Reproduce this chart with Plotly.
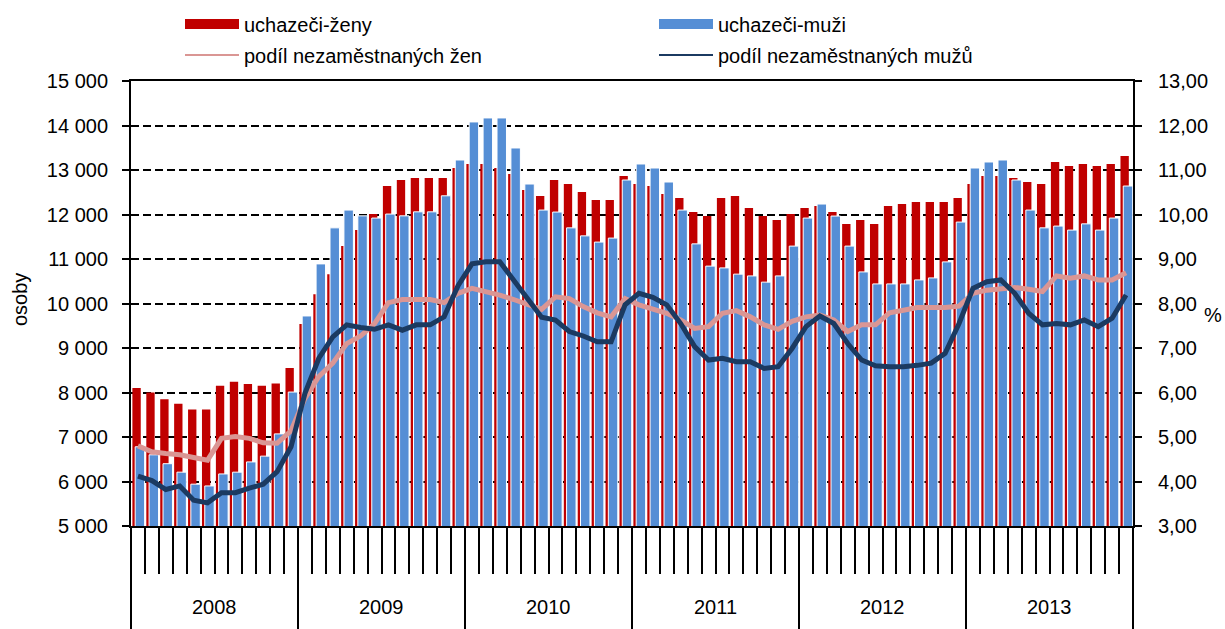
import plotly.graph_objects as go

years = ['2008', '2009', '2010', '2011', '2012', '2013']

women = [8100, 8000, 7850, 7750, 7620, 7620, 8150, 8240, 8190, 8150, 8200, 8550,
         9540, 10210, 10660, 11290, 11650, 12010, 12640, 12775, 12820, 12820, 12820, 13045,
         13135, 13135, 13045, 12910, 12551, 12416, 12775, 12685, 12506, 12326, 12326, 12865,
         12685, 12640, 12461, 12371, 12056, 11966, 12371, 12416, 12146, 11966, 11876, 12011,
         12146, 12191, 12056, 11787, 11876, 11787, 12191, 12236, 12281, 12281, 12281, 12371,
         12685, 12865, 12865, 12820, 12730, 12685, 13180, 13090, 13135, 13090, 13135, 13315]

men = [6780, 6600, 6400, 6210, 5940, 5900, 6170, 6210, 6440, 6570, 7070, 8010,
       9720, 10890, 11700, 12100, 11970, 11920, 12010, 11970, 12060, 12060, 12420, 13225,
       14080, 14170, 14170, 13495, 12685, 12100, 12055, 11700, 11520, 11380, 11470, 12775,
       13135, 13045, 12730, 12100, 11340, 10840, 10800, 10660, 10620, 10480, 10620, 11290,
       11920, 12235, 11965, 11290, 10710, 10440, 10440, 10440, 10530, 10575, 10935, 11830,
       13045, 13180, 13225, 12775, 12100, 11700, 11740, 11650, 11790, 11650, 11920, 12640]

share_women = [4.80, 4.67, 4.63, 4.60, 4.54, 4.48, 4.97, 5.01, 4.97, 4.87, 4.86, 5.14,
               5.87, 6.36, 6.66, 7.10, 7.27, 7.55, 8.02, 8.09, 8.09, 8.09, 8.02, 8.23,
               8.34, 8.27, 8.19, 8.09, 7.97, 7.87, 8.15, 8.11, 7.93, 7.79, 7.70, 8.11,
               7.97, 7.87, 7.78, 7.63, 7.44, 7.48, 7.78, 7.84, 7.70, 7.52, 7.42, 7.60,
               7.70, 7.74, 7.63, 7.37, 7.52, 7.52, 7.79, 7.85, 7.91, 7.91, 7.91, 7.94,
               8.23, 8.30, 8.34, 8.36, 8.32, 8.27, 8.62, 8.57, 8.62, 8.53, 8.53, 8.69]

share_men = [4.12, 4.02, 3.82, 3.90, 3.58, 3.52, 3.75, 3.75, 3.85, 3.94, 4.22, 4.78,
             5.98, 6.77, 7.25, 7.52, 7.46, 7.42, 7.52, 7.40, 7.52, 7.52, 7.70, 8.40,
             8.89, 8.94, 8.94, 8.53, 8.08, 7.69, 7.63, 7.37, 7.27, 7.14, 7.14, 7.97,
             8.23, 8.14, 7.97, 7.55, 7.03, 6.73, 6.77, 6.69, 6.69, 6.54, 6.58, 6.99,
             7.48, 7.72, 7.55, 7.10, 6.73, 6.60, 6.58, 6.58, 6.61, 6.66, 6.88, 7.55,
             8.34, 8.49, 8.53, 8.23, 7.78, 7.52, 7.55, 7.52, 7.63, 7.48, 7.67, 8.19]

names = ['uchazeči-ženy', 'uchazeči-muži', 'podíl nezaměstnaných žen', 'podíl nezaměstnaných mužů']

RED = '#C00000'
BLUE = '#558ED5'
PINK = '#DA9694'
NAVY = '#1B3A61'
FONT = 'Arial, Liberation Sans, sans-serif'

W, H = 1225, 629
ML, MR, MT, MB = 131, 92, 81, 103
PW, PH = W - ML - MR, H - MT - MB

n = len(women)
x = list(range(n))
month_bounds = [i - 0.5 for i in range(n + 1)]
year_bounds = [i * 12 - 0.5 for i in range(len(years) + 1)]
year_centers = [i * 12 + 5.5 for i in range(len(years))]

fig = go.Figure()
fig.add_bar(x=x, y=women, width=0.6, offset=-0.4, showlegend=False, name=names[0],
            marker=dict(color=RED, line=dict(width=0)))
fig.add_bar(x=x, y=men, width=0.68, offset=-0.2, showlegend=False, name=names[1],
            marker=dict(color=BLUE, line=dict(color='white', width=1)))
fig.add_scatter(x=x, y=share_women, yaxis='y2', mode='lines', showlegend=False, name=names[2],
                line=dict(color=PINK, width=5))
fig.add_scatter(x=x, y=share_men, yaxis='y2', mode='lines', showlegend=False, name=names[3],
                line=dict(color=NAVY, width=5))

# legend entries
fig.add_scatter(x=[None], y=[None], mode='lines', name=names[0], legend='legend',
                line=dict(color=RED, width=10))
fig.add_scatter(x=[None], y=[None], mode='lines', name=names[1], legend='legend',
                line=dict(color=BLUE, width=10))
fig.add_scatter(x=[None], y=[None], mode='lines', name=names[2], legend='legend2',
                line=dict(color=PINK, width=2))
fig.add_scatter(x=[None], y=[None], mode='lines', name=names[3], legend='legend2',
                line=dict(color=NAVY, width=2))

for i, yr in enumerate(years):
    fig.add_annotation(x=year_centers[i], y=(MT + PH - 607) / PH, xref='x', yref='paper', text=yr,
                       showarrow=False, xanchor='center', yanchor='middle',
                       font=dict(size=20, color='black', family=FONT))
fig.add_annotation(x=(1213 - ML) / PW, y=(MT + PH - 315) / PH, xref='paper', yref='paper', text='%',
                   showarrow=False, xanchor='center', yanchor='middle',
                   font=dict(size=20, color='black', family=FONT))
fig.add_annotation(x=(20 - ML) / PW, y=(MT + PH - 300) / PH, xref='paper', yref='paper', text='osoby',
                   showarrow=False, textangle=-90, xanchor='center', yanchor='middle',
                   font=dict(size=20, color='black', family=FONT))

legend_common = dict(orientation='h', xref='container', yref='container', xanchor='left', yanchor='middle',
                     entrywidth=405, entrywidthmode='pixels', itemwidth=54, bgcolor='rgba(0,0,0,0)',
                     font=dict(size=20, color='black', family=FONT), traceorder='normal')

fig.update_layout(
    width=W, height=H,
    margin=dict(l=ML, r=MR, t=MT, b=MB, autoexpand=False),
    paper_bgcolor='white', plot_bgcolor='white',
    barmode='overlay',
    separators=', ',
    font=dict(family=FONT, size=20, color='black'),
    legend=dict(x=180 / W, y=1 - 24 / H, **legend_common),
    legend2=dict(x=180 / W, y=1 - 55 / H, **legend_common),
    xaxis=dict(range=[-0.5, n - 0.5], tickmode='array', tickvals=year_bounds, showticklabels=False,
               ticks='outside', ticklen=104, tickwidth=1.5, tickcolor='black',
               minor=dict(tickmode='array', tickvals=month_bounds, ticks='outside', ticklen=46,
                          tickwidth=1.5, tickcolor='black'),
               showline=True, linecolor='black', linewidth=2, mirror=True,
               showgrid=False, zeroline=False, automargin=False),
    yaxis=dict(range=[5000, 15000], dtick=1000, tickformat=',d', ticks='outside', ticklen=7,
               tickwidth=1.5, tickcolor='black', showline=True, linecolor='black', linewidth=2,
               showgrid=True, gridcolor='black', gridwidth=1.5, griddash='8px,4px', zeroline=False,
               ticklabelstandoff=10, tickfont=dict(size=20), automargin=False),
    yaxis2=dict(range=[3, 13], dtick=1, tickformat='.2f', overlaying='y', side='right',
                ticks='outside', ticklen=7, tickwidth=1.5, tickcolor='black', showline=True,
                linecolor='black', linewidth=2, showgrid=False, zeroline=False,
                ticklabelstandoff=12, tickfont=dict(size=20), automargin=False),
)

fig.write_html('out.html', config={'displayModeBar': False},
               post_script="document.body.style.margin='0';document.body.style.overflow='hidden';")
